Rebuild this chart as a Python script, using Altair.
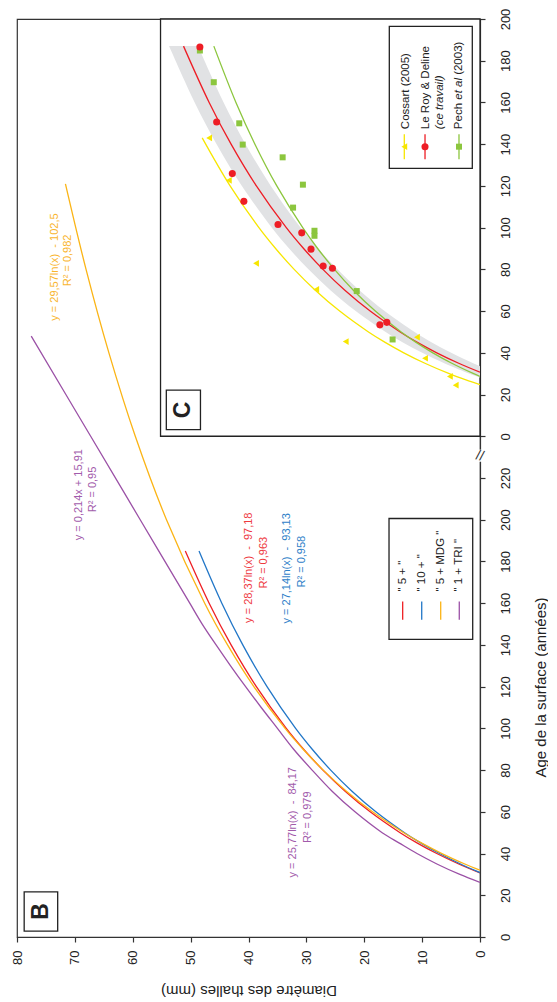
import altair as alt
import pandas as pd

# ---------------- data (age in years, diameter in mm) ----------------
# Panel B : fitted curves
B_NAMES = ['" 5 + "', '" 10 + "', '" 5 + MDG "', '" 1 + TRI "']
B_COLORS = ["#ee2024", "#2176c7", "#fbb415", "#9b51a6"]
B5_AGE = [30.7, 35, 40, 45, 50, 60, 70, 80, 90, 100, 120, 140, 160, 185]
B5_DIAM = [0, 3.68, 7.47, 10.82, 13.80, 18.98, 23.35, 27.14, 30.48, 33.47, 38.64, 43.01, 46.80, 50.92]
B10_AGE = [30.9, 35, 40, 45, 50, 60, 70, 80, 90, 100, 120, 140, 160, 185]
B10_DIAM = [0, 3.36, 6.99, 10.18, 13.04, 17.99, 22.17, 25.80, 28.99, 31.86, 36.80, 40.99, 44.61, 48.55]
BMDG_AGE = [32.0, 35, 40, 45, 50, 60, 70, 80, 90, 100, 120, 140, 160, 200, 240, 280, 320, 361]
BMDG_DIAM = [0, 2.63, 6.58, 10.06, 13.18, 18.57, 23.13, 27.08, 30.56, 33.68, 39.07, 43.62, 47.57,
             54.17, 59.56, 64.12, 68.07, 71.63]
BTRI_AGE = [26.2, 30, 35, 40, 45, 50, 60, 70, 80, 90, 100, 110, 120, 130, 140, 150, 160, 200, 240, 288]
BTRI_DIAM = [0, 3.48, 7.45, 10.89, 13.93, 16.9, 21.6, 25.6, 29.0, 32.2, 35.0, 37.8, 40.5, 43.1,
             45.6, 48.0, 50.15, 58.71, 67.27, 77.54]

# Panel B : equations written next to the curves
ANN_TEXT = ["y = 29,57ln(x)\u00a0\u00a0- 102,5", "R² = 0,982",
            "y = 0,214x + 15,91", "R² = 0,95",
            "y = 28,37ln(x)\u00a0\u00a0-\u00a0\u00a097,18", "R² = 0,963",
            "y = 27,14ln(x)\u00a0\u00a0-\u00a0\u00a093,13", "R² = 0,958",
            "y = 25,77ln(x)\u00a0\u00a0-\u00a0\u00a084,17", "R² = 0,979"]
ANN_DIAM = [73.38, 71.19, 69.23, 66.87, 39.86, 37.29, 33.40, 30.76, 32.26, 29.67]
ANN_AGE = [321.1, 324.3, 212.0, 214.5, 177.0, 179.4, 176.7, 179.9, 55.0, 57.4]
ANN_COLOR = ["#f9b52e", "#f9b52e", "#a25bab", "#a25bab", "#ee3a3f", "#ee3a3f",
             "#2e80c8", "#2e80c8", "#a25bab", "#a25bab"]

# Panel C : curves
C_NAMES = ["Cossart (2005)", "Le Roy & Deline", "Pech et al (2003)"]
C_COLORS = ["#f7e600", "#ee1d25", "#8cc63e"]
CCOS_AGE = [24.7, 27, 30, 35, 40, 45, 50, 60, 70, 80, 90, 100, 120, 143]
CCOS_DIAM = [0, 2.43, 5.31, 9.52, 13.17, 16.39, 19.27, 24.25, 28.46, 32.11, 35.32, 38.2, 43.18, 48.0]
CLRD_AGE = [30.7, 35, 40, 45, 50, 60, 70, 80, 90, 100, 120, 140, 160, 187]
CLRD_DIAM = [0, 3.68, 7.47, 10.82, 13.80, 18.98, 23.35, 27.14, 30.48, 33.47, 38.64, 43.01, 46.80, 51.23]
CPEC_AGE = [28.7, 30, 35, 40, 45, 50, 60, 70, 80, 90, 100, 120, 140, 160, 187]
CPEC_DIAM = [0, 1.09, 4.87, 8.15, 11.04, 13.62, 18.09, 21.88, 25.15, 28.05, 30.63, 35.11, 38.89, 42.17, 45.99]
BAND_AGE = [28, 30, 32, 35, 40, 45, 50, 60, 70, 80, 90, 100, 120, 140, 160, 187]
BAND_LO = [-5.15, -3.19, -1.36, 1.18, 4.97, 8.32, 11.30, 16.48, 20.85, 24.64, 27.98, 30.97, 36.14,
           40.51, 44.30, 48.73]
BAND_HI = [-0.15, 1.81, 3.64, 6.18, 9.97, 13.32, 16.30, 21.48, 25.85, 29.64, 32.98, 35.97, 41.14,
           45.51, 49.30, 53.73]

# Panel C : observations
PT_LRD_AGE = [186.6, 150.6, 125.9, 112.6, 101.5, 97.5, 89.7, 81.6, 80.5, 53.4, 54.6]
PT_LRD_DIAM = [48.4, 45.5, 42.8, 40.8, 34.9, 30.8, 29.2, 27.1, 25.5, 17.3, 16.1]
PT_PEC_AGE = [184.9, 169.7, 150.0, 139.8, 133.7, 120.6, 109.6, 98.5, 96.1, 69.6, 46.4]
PT_PEC_DIAM = [48.4, 46.0, 41.6, 41.0, 34.1, 30.6, 32.3, 28.6, 28.6, 21.3, 15.1]
PT_COS_AGE = [143.0, 122.7, 82.9, 70.4, 45.4, 47.5, 37.4, 28.7, 24.5]
PT_COS_DIAM = [46.8, 43.4, 38.7, 28.3, 23.2, 10.9, 9.5, 5.2, 4.2]

B_TICKS = list(range(0, 221, 20))
C_TICKS = list(range(0, 201, 20))

# ---------------- layout (in axis units) ----------------
C_OFFSET = 240           # panel C age 0 sits at 240 on the shared vertical scale
FONT = "Liberation Sans"
W, H = 463, 918

xs = alt.Scale(domain=[0, 80], reverse=True, nice=False, zero=False)
ys = alt.Scale(domain=[0, 440], nice=False, zero=False)

xaxis = alt.Axis(values=list(range(0, 81, 10)), orient="bottom", grid=False, zindex=0,
                 labelAngle=270, labelAlign="right", labelBaseline="middle", labelFontSize=13,
                 labelFont=FONT, labelColor="#222", labelPadding=8, labelFlush=False,
                 tickSize=5, tickColor="#333", domainColor="#333", domainWidth=1.2, tickWidth=1.2,
                 title="Diamètre des thalles (mm)", titleAngle=180, titleBaseline="bottom",
                 titleAlign="center", titleX=W / 2, titleY=45, titleFont=FONT, titleFontSize=15,
                 titleFontWeight="normal", titleColor="#222")
yaxis = alt.Axis(values=B_TICKS + [t + C_OFFSET for t in C_TICKS], orient="right", grid=False, zindex=0,
                 labelExpr=f"datum.value >= {C_OFFSET} ? datum.value - {C_OFFSET} : datum.value",
                 labelAngle=270, labelAlign="center", labelBaseline="top", labelFontSize=13,
                 labelFont=FONT, labelColor="#222", labelPadding=14, labelFlush=False,
                 labelOverlap=False, labelBound=False,
                 tickSize=5, tickColor="#333", domainColor="#333", domainWidth=1.2, tickWidth=1.2,
                 title="Age de la surface (années)", titleAngle=270, titleBaseline="top",
                 titleAlign="center", titleX=53, titleY=668, titleFont=FONT, titleFontSize=15,
                 titleFontWeight="normal", titleColor="#222")


def X(f="d"):
    return alt.X(f"{f}:Q", scale=xs, axis=xaxis)


def Y(f="a"):
    return alt.Y(f"{f}:Q", scale=ys, axis=yaxis)


def series(name, color, ages, diams, offset=0):
    return pd.DataFrame({"s": name, "c": color, "a": [v + offset for v in ages], "d": diams})


# ---- panel B curves
df_b = pd.concat([series(B_NAMES[0], B_COLORS[0], B5_AGE, B5_DIAM),
                  series(B_NAMES[1], B_COLORS[1], B10_AGE, B10_DIAM),
                  series(B_NAMES[2], B_COLORS[2], BMDG_AGE, BMDG_DIAM),
                  series(B_NAMES[3], B_COLORS[3], BTRI_AGE, BTRI_DIAM)])
lines_b = alt.Chart(df_b).mark_line(strokeWidth=1.3, interpolate="catmull-rom", clip=True).encode(
    x=X(), y=Y(), order="a:Q", detail="s:N", color=alt.Color("c:N", scale=None))

df_ann = pd.DataFrame({"t": ANN_TEXT, "d": ANN_DIAM, "a": ANN_AGE, "c": ANN_COLOR})
ann = alt.Chart(df_ann).mark_text(angle=270, align="center", baseline="middle", font=FONT,
                                  fontSize=11).encode(x=X(), y=Y(), text="t:N",
                                                      color=alt.Color("c:N", scale=None))


def box(d1, d2, a1, a2, stroke="#222", sw=1.3):
    df = pd.DataFrame({"d": [d1], "d2": [d2], "a": [a1], "a2": [a2]})
    return alt.Chart(df).mark_rect(fill="white", stroke=stroke, strokeWidth=sw).encode(
        x=X(), x2="d2:Q", y=Y(), y2="a2:Q")


def label(txt, d, a, size, color="#222", weight="normal", style="normal", align="left", dx=0):
    df = pd.DataFrame({"t": [txt], "d": [d], "a": [a]})
    return alt.Chart(df).mark_text(angle=270, align=align, baseline="middle", font=FONT,
                                   fontSize=size, fontWeight=weight, fontStyle=style, color=color,
                                   dx=dx).encode(x=X(), y=Y(), text="t:N")


# ---- panel C
c_box = box(0, 55.2, C_OFFSET, 440)
df_band = pd.DataFrame({"a": [v + C_OFFSET for v in BAND_AGE], "lo": BAND_LO, "hi": BAND_HI})
band = alt.Chart(df_band).mark_area(orient="horizontal", color="#e1e2e4", clip=True,
                                    interpolate="catmull-rom").encode(y=Y(), x=X("lo"), x2="hi:Q")
df_c = pd.concat([series(C_NAMES[0], C_COLORS[0], CCOS_AGE, CCOS_DIAM, C_OFFSET),
                  series(C_NAMES[1], C_COLORS[1], CLRD_AGE, CLRD_DIAM, C_OFFSET),
                  series(C_NAMES[2], C_COLORS[2], CPEC_AGE, CPEC_DIAM, C_OFFSET)])
lines_c = alt.Chart(df_c).mark_line(strokeWidth=1.3, interpolate="catmull-rom", clip=True).encode(
    x=X(), y=Y(), order="a:Q", detail="s:N", color=alt.Color("c:N", scale=None))


def pts(ages, diams, shape, color, size):
    df = pd.DataFrame({"a": [v + C_OFFSET for v in ages], "d": diams})
    return alt.Chart(df).mark_point(shape=shape, filled=True, size=size, color=color,
                                    opacity=1).encode(x=X(), y=Y())


pts_cos = pts(PT_COS_AGE, PT_COS_DIAM, "triangle-left", C_COLORS[0], 45)
pts_pec = pts(PT_PEC_AGE, PT_PEC_DIAM, "square", C_COLORS[2], 36)
pts_lrd = pts(PT_LRD_AGE, PT_LRD_DIAM, "circle", C_COLORS[1], 50)

# ---- legend C (rotated)
LEGC_D = [13.08, 9.50, 3.63]
legc = [box(1.33, 15.67, 368.4, 436.5)]
df_lc = pd.DataFrame({"d": LEGC_D, "a": [372.8] * 3, "a2": [384.8] * 3, "c": C_COLORS})
legc.append(alt.Chart(df_lc).mark_rule(strokeWidth=1.3).encode(
    x=X(), y=Y(), y2="a2:Q", color=alt.Color("c:N", scale=None)))
for dd, shape, col, sz in zip(LEGC_D, ["triangle-left", "circle", "square"], C_COLORS, [45, 50, 36]):
    legc.append(alt.Chart(pd.DataFrame({"d": [dd], "a": [378.8]})).mark_point(
        shape=shape, filled=True, size=sz, color=col, opacity=1).encode(x=X(), y=Y()))
legc += [label("Cossart (2005)", 12.85, 387.2, 11.5),
         label("Le Roy & Deline", 9.33, 387.2, 11.5),
         label("(ce travail)", 6.91, 387.2, 11.5, style="italic"),
         label("Pech", 3.63, 387.2, 11.5),
         label("et al", 3.63, 387.2, 11.5, style="italic", dx=29.4),
         label("(2003)", 3.63, 387.2, 11.5, dx=54.3)]

# ---- legend B (rotated)
LEGB_D = [13.36, 10.07, 6.79, 3.58]
legb = [box(1.26, 15.72, 142.7, 200.6)]
df_lb = pd.DataFrame({"d": LEGB_D, "a": [152.1] * 4, "a2": [160.8] * 4, "c": B_COLORS})
legb.append(alt.Chart(df_lb).mark_rule(strokeWidth=1.3).encode(
    x=X(), y=Y(), y2="a2:Q", color=alt.Color("c:N", scale=None)))
for dd, name in zip(LEGB_D, B_NAMES):
    legb.append(label(name.replace(" ", "\u00a0"), dd, 165.6, 11.5))

# ---- panel letters
panel_b = [box(72.97, 78.76, 2.86, 21.6), label("B", 75.85, 12.2, 23, weight="bold", align="center")]
panel_c = [box(48.3, 54.2, 243.2, 262.1), label("C", 51.27, 252.6, 23, weight="bold", align="center")]

# ---- axis break
gap = alt.Chart(pd.DataFrame({"d": [-0.4], "d2": [0.4], "a": [227.8], "a2": [233.6]})).mark_rect(
    fill="white", clip=False).encode(x=X(), x2="d2:Q", y=Y(), y2="a2:Q")
brk = alt.Chart(pd.DataFrame({"t": ["//"], "d": [0.0], "a": [230.5]})).mark_text(
    angle=13, align="center", baseline="middle", font=FONT, fontSize=14, color="#333").encode(
    x=X(), y=Y(), text="t:N")

chart = alt.layer(
    lines_b, ann, c_box, band, lines_c, pts_cos, pts_pec, pts_lrd,
    *legc, *legb, *panel_b, *panel_c, gap, brk
).properties(
    width=W, height=H,
    padding={"left": 9, "top": 11, "right": 68, "bottom": 61},
    autosize=alt.AutoSizeParams(type="none"),
    background="white",
).configure_view(stroke="#333", strokeWidth=1.2)

chart.save("out.html", embed_options={"renderer": "svg", "actions": False})
